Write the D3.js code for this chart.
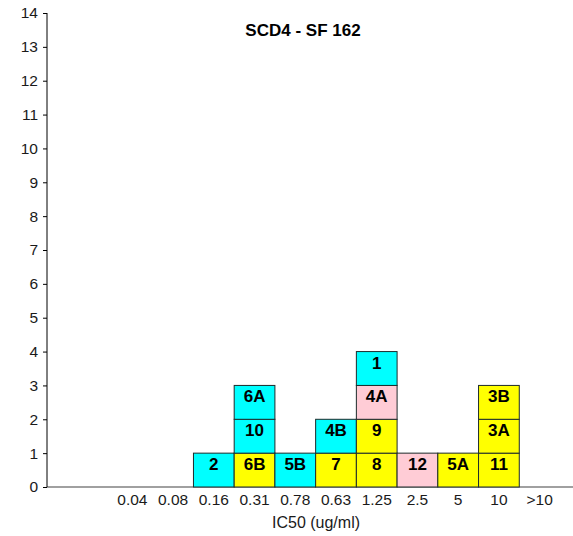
<!DOCTYPE html>
<html>
<head>
<meta charset="utf-8">
<script src="https://cdn.jsdelivr.net/npm/d3@7"></script>
<style>
  body { margin: 0; background: #fff; }
  text { font-family: Arial, "Liberation Sans", sans-serif; }
</style>
</head>
<body>
<svg width="573" height="536"></svg>
<script>
// categories along the x axis
var categories = ["0.04", "0.08", "0.16", "0.31", "0.78", "0.63", "1.25", "2.5", "5", "10", ">10"];

// one box per sample, stacked bottom to top inside each category
var boxCategory = ["0.16", "0.31", "0.31", "0.31", "0.78", "0.63", "0.63", "1.25", "1.25", "1.25", "1.25", "2.5", "5", "10", "10", "10"];
var boxLabel    = ["2",    "6B",   "10",   "6A",   "5B",   "7",    "4B",   "8",    "9",    "4A",   "1",    "12",  "5A", "11", "3A", "3B"];
var boxGroup    = ["a",    "b",    "a",    "a",    "a",    "b",    "a",    "b",    "b",    "c",    "a",    "c",   "b",  "b",  "b",  "b"];

var yTicks = d3.range(0, 15);

var svg = d3.select("svg");

var x = d3.scaleBand()
    .domain(categories)
    .range([112, 560])
    .padding(0);

var y = d3.scaleLinear()
    .domain([0, 14])
    .range([487, 13]);

var color = d3.scaleOrdinal()
    .domain(["a", "b", "c"])
    .range(["#00ffff", "#ffff00", "#ffccd6"]);

// stack position of each box
var seen = {};
var boxes = boxLabel.map(function(l, i) {
  var c = boxCategory[i];
  seen[c] = (seen[c] || 0);
  var d = {cat: c, label: l, group: boxGroup[i], y0: seen[c], y1: seen[c] + 1};
  seen[c] += 1;
  return d;
});

// x axis line (gray, full width of plot)
svg.append("line")
    .attr("x1", 47).attr("x2", 573)
    .attr("y1", y(0)).attr("y2", y(0))
    .attr("stroke", "#808080")
    .attr("stroke-width", 1.5);

var g = svg.append("g");

g.selectAll("rect")
  .data(boxes)
  .enter().append("rect")
    .attr("x", function(d) { return x(d.cat); })
    .attr("y", function(d) { return y(d.y1); })
    .attr("width", x.bandwidth())
    .attr("height", function(d) { return y(d.y0) - y(d.y1); })
    .attr("fill", function(d) { return color(d.group); })
    .attr("stroke", "#1d2b2b")
    .attr("stroke-width", 1);

g.selectAll("text.lbl")
  .data(boxes)
  .enter().append("text")
    .attr("class", "lbl")
    .attr("x", function(d) { return x(d.cat) + x.bandwidth() / 2; })
    .attr("y", function(d) { return y(d.y1) + 17; })
    .attr("text-anchor", "middle")
    .style("font-size", "17px")
    .style("font-weight", "bold")
    .text(function(d) { return d.label; });

// y axis
var yAxis = svg.append("g")
    .attr("transform", "translate(47,0)")
    .call(d3.axisLeft(y).tickValues(yTicks).tickSize(4).tickPadding(5).tickFormat(d3.format("d")));
yAxis.select(".domain").attr("stroke", "#000").attr("d", "M0," + y(14) + "V" + y(0));
yAxis.selectAll("text").style("font-size", "15.5px").attr("fill", "#1a1a1a");

// x tick labels
svg.selectAll("text.xt")
  .data(categories)
  .enter().append("text")
    .attr("class", "xt")
    .attr("x", function(d) { return x(d) + x.bandwidth() / 2; })
    .attr("y", 505)
    .attr("text-anchor", "middle")
    .style("font-size", "15.5px")
    .attr("fill", "#1a1a1a")
    .text(function(d) { return d; });

svg.append("text")
    .attr("x", 316).attr("y", 528)
    .attr("text-anchor", "middle")
    .style("font-size", "16px")
    .attr("fill", "#1a1a1a")
    .text("IC50 (ug/ml)");

svg.append("text")
    .attr("x", 303).attr("y", 36)
    .attr("text-anchor", "middle")
    .style("font-size", "17px")
    .style("font-weight", "bold")
    .text("SCD4 - SF 162");
</script>
</body>
</html>
